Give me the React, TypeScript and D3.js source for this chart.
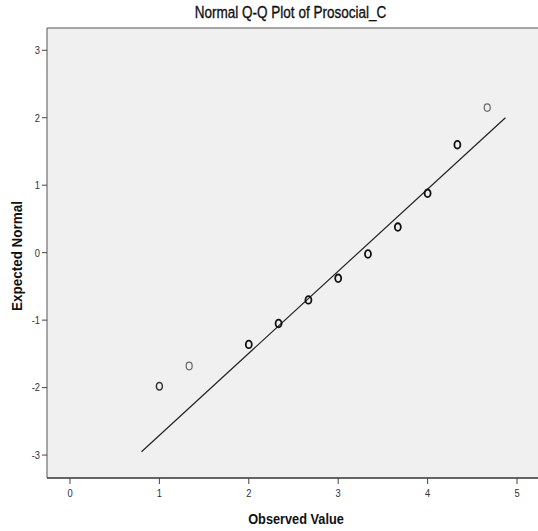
import React from "react";
import * as d3 from "d3";

const observed = [1, 1.333, 2, 2.333, 2.667, 3, 3.333, 3.667, 4, 4.333, 4.667];
const expected = [-1.98, -1.68, -1.36, -1.05, -0.7, -0.38, -0.02, 0.38, 0.88, 1.6, 2.15];
const counts = [2, 1, 3, 3, 3, 3, 3, 3, 3, 3, 1];
const lineMean = 3.226;
const lineSd = 0.822;
const lineRange = [0.8, 4.87];
const xTicks = [0, 1, 2, 3, 4, 5];
const yTicks = [3, 2, 1, 0, -1, -2, -3];

const W = 538;
const H = 531;
const left = 47;
const right = 545;
const top = 28;
const bottom = 478;
const FONT = "'Liberation Sans', Arial, sans-serif";

function CText(props: {
  x: number;
  y: number;
  sx: number;
  rotate?: number;
  size: number;
  bold?: boolean;
  anchor?: string;
  fill?: string;
  dy?: string;
  strokeW?: number;
  children: React.ReactNode;
}) {
  const { x, y, sx, rotate = 0, size, bold, anchor = "middle", fill = "#111", dy, strokeW, children } = props;
  return (
    <g transform={`translate(${x},${y}) rotate(${rotate}) scale(${sx},1)`}>
      <text
        textAnchor={anchor}
        fontFamily={FONT}
        fontSize={size}
        fontWeight={bold ? "bold" : "normal"}
        fill={fill}
        stroke={strokeW ? fill : "none"}
        strokeWidth={strokeW || 0}
        dy={dy}
      >
        {children}
      </text>
    </g>
  );
}

export default function App() {
  const x = d3.scaleLinear().domain([-0.257, 5.313]).range([left, right]);
  const y = d3.scaleLinear().domain([-3.34, 3.33]).range([bottom, top]);
  const lineGen = d3
    .line<number>()
    .x((d) => x(d))
    .y((d) => y((d - lineMean) / lineSd));

  return (
    <div style={{ position: "fixed", left: 0, top: 0, width: W, height: H, background: "#fff" }}>
      <svg width={W} height={H} style={{ display: "block" }}>
        <rect x={0} y={0} width={W} height={H} fill="#ffffff" />
        <rect x={left} y={top} width={right - left} height={bottom - top} fill="#f0f0f0" />
        <line x1={left} x2={right} y1={top} y2={top} stroke="#8a8a8a" strokeWidth={1.5} />
        <line x1={left} x2={left} y1={top} y2={bottom} stroke="#555" strokeWidth={1} />
        <line x1={left} x2={right} y1={bottom} y2={bottom} stroke="#333" strokeWidth={1.5} />
        <CText x={290.5} y={18} sx={0.82} size={16.5} strokeW={0.35}>
          Normal Q-Q Plot of Prosocial_C
        </CText>
        {yTicks.map((t) => (
          <g key={"y" + t}>
            <line x1={left - 5} x2={left} y1={y(t)} y2={y(t)} stroke="#444" strokeWidth={1} />
            <CText x={left - 7} y={y(t)} sx={0.85} size={11} anchor="end" fill="#333" dy="0.35em">
              {t}
            </CText>
          </g>
        ))}
        {xTicks.map((t) => (
          <g key={"x" + t}>
            <line x1={x(t)} x2={x(t)} y1={bottom} y2={bottom + 6} stroke="#444" strokeWidth={1} />
            <CText x={x(t)} y={bottom + 19} sx={0.85} size={11} fill="#333">
              {t}
            </CText>
          </g>
        ))}
        <CText x={296} y={524} sx={0.88} size={14.5} bold>
          Observed Value
        </CText>
        <CText x={22} y={256} rotate={-90} sx={0.9} size={15} bold>
          Expected Normal
        </CText>
        <path d={lineGen(lineRange) || ""} fill="none" stroke="#222" strokeWidth={1.2} />
        {observed.map((o, i) => {
          const c = counts[i];
          const stroke = c >= 3 ? "#111" : c === 2 ? "#333" : "#666";
          const sw = c >= 3 ? 1.8 : c === 2 ? 1.5 : 1.2;
          return (
            <ellipse
              key={i}
              cx={x(o)}
              cy={y(expected[i])}
              rx={3}
              ry={3.8}
              fill="none"
              stroke={stroke}
              strokeWidth={sw}
            />
          );
        })}
      </svg>
    </div>
  );
}
